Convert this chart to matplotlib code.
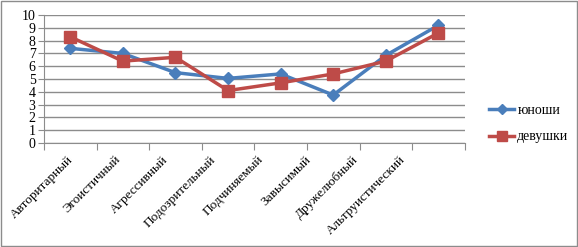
import numpy as np
import matplotlib
matplotlib.use('Agg')
import matplotlib.pyplot as plt
from matplotlib.transforms import ScaledTranslation

categories = ['Авторитарный', 'Эгоистичный', 'Агрессивный', 'Подозрительный',
              'Подчиняемый', 'Завысимый', 'Дружелюбный', 'Альтруистический']
boys = [7.4, 7.0, 5.5, 5.05, 5.4, 3.75, 6.85, 9.2]
girls = [8.3, 6.4, 6.7, 4.1, 4.7, 5.4, 6.4, 8.6]

plt.rcParams['font.family'] = ['Liberation Serif', 'DejaVu Serif']

fig = plt.figure(figsize=(5.78, 2.47), dpi=100)
ax = fig.add_axes([0.076, 0.421, 0.728, 0.518])

x = np.arange(len(categories))
ax.plot(x, boys, color='#4A7EBB', lw=2.5, marker='D', ms=6, label='юноши')
ax.plot(x, girls, color='#BE4B48', lw=2.5, marker='s', ms=8, label='девушки')

ax.set_xlim(-0.5, len(categories) - 0.5)
ax.set_ylim(0, 10)
ax.set_yticks(range(0, 11))
ax.yaxis.grid(True, color='#8c8c8c', lw=1)
ax.set_axisbelow(True)

ax.set_xticks(np.arange(-0.5, len(categories), 1))
ax.set_xticklabels([])
ax.set_xticks(x, minor=True)
ax.set_xticklabels(categories, minor=True, rotation=45, ha='right', va='top',
                   rotation_mode='anchor', fontsize=9.5)
ax.tick_params(axis='x', which='minor', length=0, pad=4)
ax.tick_params(axis='x', which='major', length=5, color='#8c8c8c')
ax.tick_params(axis='y', length=4, color='#8c8c8c', labelsize=10, pad=2)

# excel-style squeeze of the rotated labels toward the left
for i, lbl in enumerate(ax.get_xticklabels(minor=True)):
    lbl.set_transform(lbl.get_transform() +
                      ScaledTranslation(-(3 + 5.1 * i) / 100, -0.05, fig.dpi_scale_trans))

for s in ['top', 'right']:
    ax.spines[s].set_visible(False)
for s in ['left', 'bottom']:
    ax.spines[s].set_color('#8c8c8c')

fig.legend(loc='center left', bbox_to_anchor=(0.83, 0.5), frameon=False,
           fontsize=10, handlelength=1.8, labelspacing=1.0, handletextpad=0.2,
           borderpad=0.2, markerscale=0.9)

border = plt.Rectangle((0.002, 0.004), 0.996, 0.992, transform=fig.transFigure,
                       fill=False, edgecolor='#8c8c8c', lw=1)
fig.patches.append(border)

fig.savefig('out.png', dpi=100)
